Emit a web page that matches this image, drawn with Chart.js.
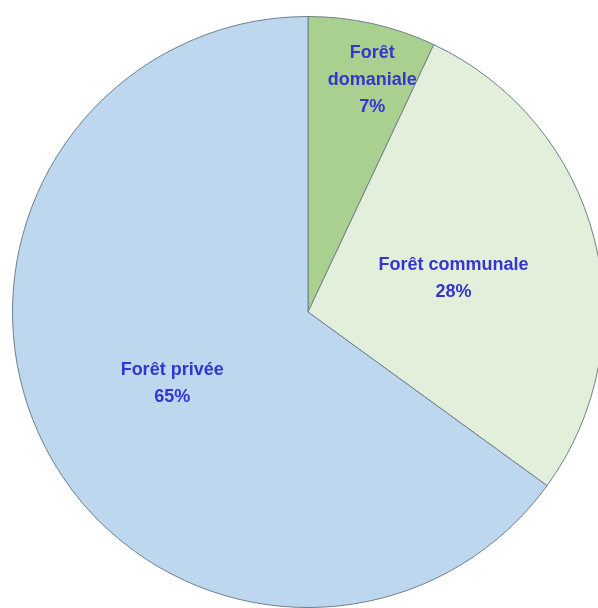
<!DOCTYPE html>
<html>
<head>
<meta charset="utf-8">
<script src="https://cdn.jsdelivr.net/npm/chart.js@4"></script>
<style>
html,body{margin:0;padding:0;background:#fff;overflow:hidden;}
#wrap{position:absolute;left:0;top:0;width:616px;height:622px;}
</style>
</head>
<body>
<div id="wrap"><canvas id="c" width="616" height="622"></canvas></div>
<script>
const categories = ["Forêt domaniale", "Forêt communale", "Forêt privée"];
const labelLines = [["Forêt", "domaniale"], ["Forêt communale"], ["Forêt privée"]];
const values = [7, 28, 65];
const colors = ["#a9d08e", "#e2efda", "#bdd7ee"];

const labelPlugin = {
  id: 'sliceLabels',
  afterDatasetsDraw(chart, args, opts) {
    const ctx = chart.ctx;
    const meta = chart.getDatasetMeta(0);
    const total = values.reduce((a, b) => a + b, 0);
    ctx.save();
    ctx.font = 'bold 18px "Liberation Sans", Arial, sans-serif';
    ctx.fillStyle = '#3535cf';
    ctx.textAlign = 'center';
    ctx.textBaseline = 'middle';
    meta.data.forEach((arc, i) => {
      const p = arc.getProps(['x', 'y', 'startAngle', 'endAngle', 'outerRadius'], true);
      const mid = (p.startAngle + p.endAngle) / 2 + (opts.angleShift[i] || 0);
      const r = p.outerRadius * opts.radiusFrac[i];
      const cx = p.x + Math.cos(mid) * r;
      const cy = p.y + Math.sin(mid) * r;
      const lines = labelLines[i].concat([Math.round(values[i] / total * 100) + '%']);
      const lh = 27;
      const y0 = cy - (lines.length - 1) * lh / 2;
      lines.forEach((t, k) => ctx.fillText(t, cx, y0 + k * lh));
    });
    ctx.restore();
  }
};

new Chart(document.getElementById('c'), {
  type: 'pie',
  data: {
    labels: categories,
    datasets: [{
      data: values,
      backgroundColor: colors,
      borderColor: '#6f7f8f',
      borderWidth: 1
    }]
  },
  options: {
    responsive: false,
    animation: false,
    devicePixelRatio: 1,
    layout: { padding: { left: 12, right: 12, top: 16, bottom: 14 } },
    plugins: {
      legend: { display: false },
      tooltip: { enabled: false },
      sliceLabels: { radiusFrac: [0.815, 0.505, 0.52], angleShift: [0.05, 0.025, -0.015] }
    }
  },
  plugins: [labelPlugin]
});
</script>
</body>
</html>
